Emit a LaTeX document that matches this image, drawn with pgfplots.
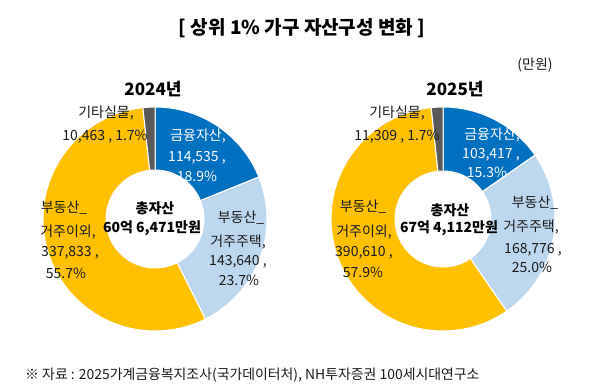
\documentclass[border=0pt]{standalone}
\usepackage{fontspec}
\setmainfont{Noto Sans CJK KR}
\usepackage{pgfplots}
\pgfplotsset{compat=1.18}
\definecolor{cFin}{HTML}{0070C0}
\definecolor{cHome}{HTML}{BDD7EE}
\definecolor{cOther}{HTML}{FFC000}
\definecolor{cEtc}{HTML}{595959}
\definecolor{cTxt}{HTML}{1A1A1A}

% one ring segment: cx cy R r a b colour
\newcommand\sector[7]{%
  \edef\tmp{\noexpand\addplot[fill=#7, draw=white, line width=1pt, domain=0:3, samples=301, variable=\noexpand\t]
  ({#1+rho(\noexpand\t,#3,#4)*cos(th(\noexpand\t,#5,#6))},{#2+rho(\noexpand\t,#3,#4)*sin(th(\noexpand\t,#5,#6))});}%
  \tmp}
% donut: cx cy R r  v(금융) v(거주주택) v(거주이외) v(기타)
\newcommand\donut[8]{%
  \edef\tot{\fpeval{#5+#6+#7+#8}}%
  \edef\aB{\fpeval{round(90-360*(#5)/\tot,3)}}%
  \edef\aC{\fpeval{round(90-360*(#5+#6)/\tot,3)}}%
  \edef\aD{\fpeval{round(90-360*(#5+#6+#7)/\tot,3)}}%
  \sector{#1}{#2}{#3}{#4}{90}{\aB}{cFin}%
  \sector{#1}{#2}{#3}{#4}{\aB}{\aC}{cHome}%
  \sector{#1}{#2}{#3}{#4}{\aC}{\aD}{cOther}%
  \sector{#1}{#2}{#3}{#4}{\aD}{-270}{cEtc}%
}
\newcommand\lf{\fontsize{14bp}{16bp}\selectfont}

\begin{document}
\begin{tikzpicture}
\begin{axis}[width=599bp, height=392bp, scale only axis,
  xmin=0, xmax=599, ymin=0, ymax=392, hide axis, clip=false,
  declare function={cl(\s)=min(max(\s,0),1);
    th(\s,\sa,\sb)=\sa+(\sb-\sa)*(cl(\s)-cl(\s-1.5));
    rho(\s,\sR,\sr)=\sR-(\sR-\sr)*(cl(2*\s-2)-cl(2*\s-5));}]
  % 2024
  \donut{155}{173}{112}{49}{114535}{143640}{337833}{10463}
  % 2025
  \donut{443}{173}{112}{48}{103417}{168776}{390610}{11309}
\end{axis}
\begin{scope}[x=1bp, y=-1bp, shift={(0bp,392bp)}]
  \node[font=\fontsize{19bp}{22bp}\selectfont\bfseries, text=black] at (302,28) {[ 상위 1\% 가구 자산구성 변화 ]};
  \node[font=\fontsize{14bp}{16bp}\selectfont, text=cTxt] at (535,65) {(만원)};
  \node[font=\fontsize{17bp}{20bp}\selectfont\bfseries, text=black] at (153,89) {2024년};
  \node[font=\fontsize{17bp}{20bp}\selectfont\bfseries, text=black] at (455,89) {2025년};
  % left chart labels
  \begin{scope}[every node/.style={font=\lf, text=cTxt}]
    \node at (106,113) {기타실물,};
    \node at (105,137) {10,463 , 1.7\%};
    \node[text=white] at (198,136) {금융자산,};
    \node[text=white] at (197,158) {114,535 ,};
    \node[text=white] at (197,176) {18.9\%};
    \node at (241,218) {부동산\_};
    \node at (238,242) {거주주택,};
    \node at (238,262) {143,640 ,};
    \node at (239,280) {23.7\%};
    \node at (64,208) {부동산\_};
    \node at (68,232) {거주이외,};
    \node at (70,253) {337,833 ,};
    \node at (66,273) {55.7\%};
    \node[font=\lf\bfseries, text=black] at (155,208) {총자산};
    \node[font=\lf\bfseries, text=black] at (152,228) {60억 6,471만원};
    % right chart labels
    \node at (397,113) {기타실물,};
    \node at (397,137) {11,309 , 1.7\%};
    \node[text=white] at (492,135) {금융자산,};
    \node[text=white] at (491,155) {103,417 ,};
    \node[text=white] at (487,172) {15.3\%};
    \node at (535,203) {부동산\_};
    \node at (531,227) {거주주택,};
    \node at (533,250) {168,776 ,};
    \node at (532,267) {25.0\%};
    \node at (363,207) {부동산\_};
    \node at (364,232) {거주이외,};
    \node at (364,253) {390,610 ,};
    \node at (363,272) {57.9\%};
    \node[font=\lf\bfseries, text=black] at (450,210) {총자산};
    \node[font=\lf\bfseries, text=black] at (449,228) {67억 4,112만원};
  \end{scope}
  \node[anchor=west, font=\fontsize{13.9bp}{16bp}\selectfont, text=cTxt, inner sep=0pt] at (25,375) {※ 자료 : 2025가계금융복지조사(국가데이터처), NH투자증권 100세시대연구소};
\end{scope}
\pgfresetboundingbox
\path (0,0) rectangle (599bp,392bp);
\end{tikzpicture}
\end{document}
